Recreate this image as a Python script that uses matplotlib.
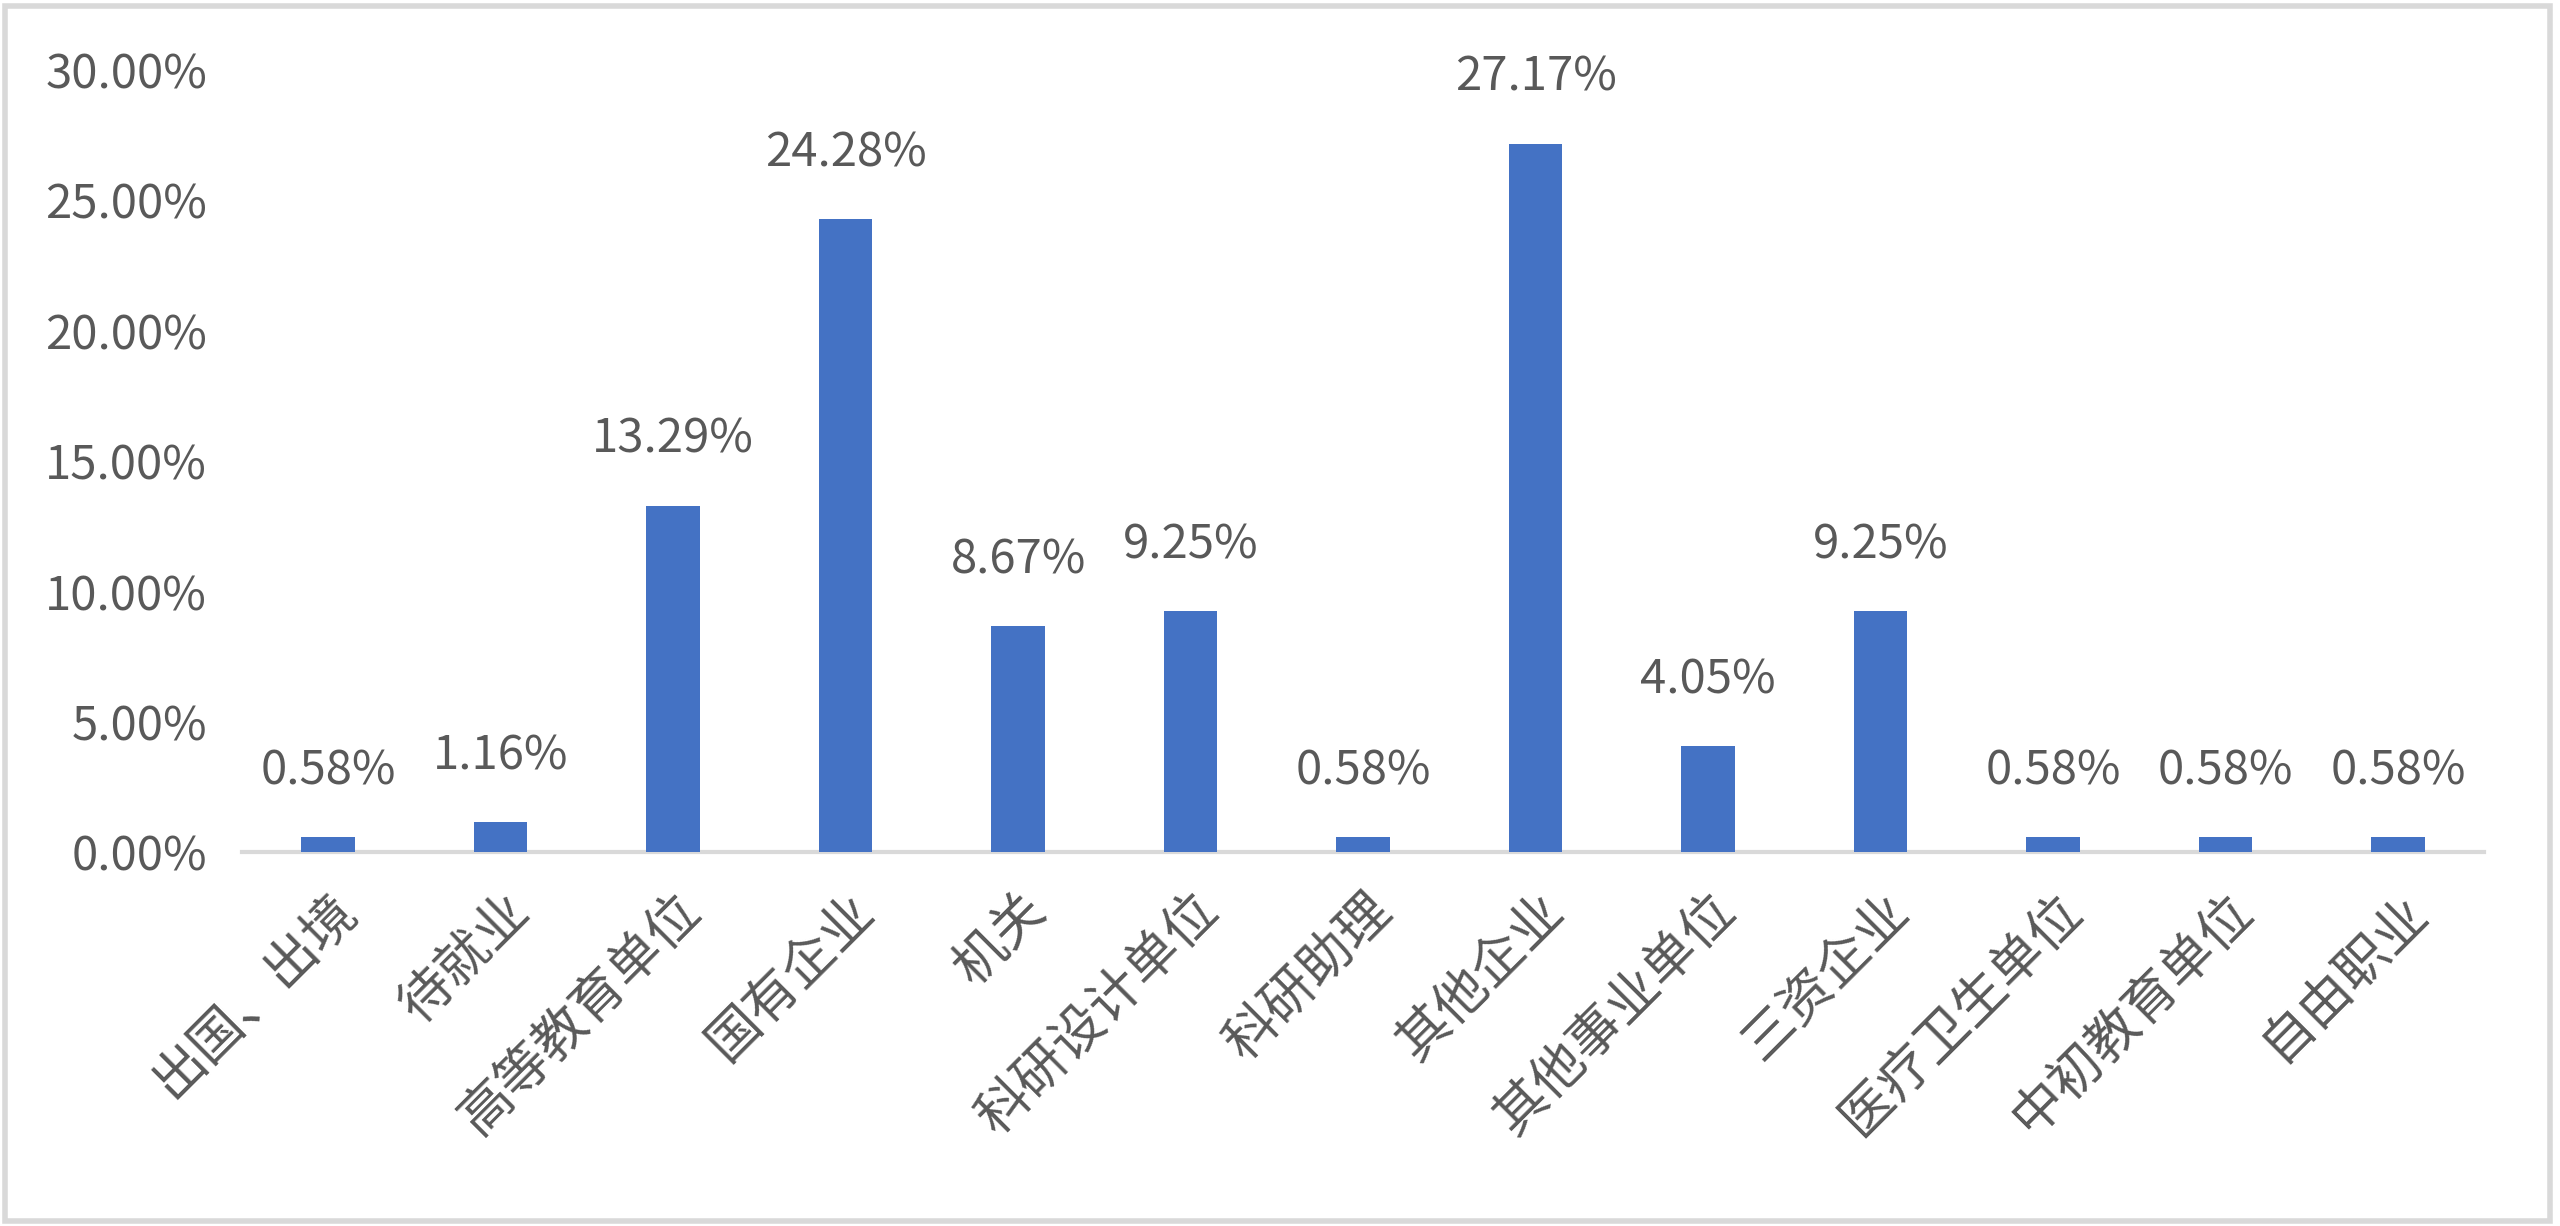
import matplotlib
matplotlib.use('Agg')
import matplotlib.pyplot as plt
from matplotlib.patches import Rectangle
import numpy as np

plt.rcParams['font.family'] = ['Noto Sans CJK SC', 'DejaVu Sans']
plt.rcParams['font.weight'] = 'light'

# data (percent)
categories = ['出国、出境', '待就业', '高等教育单位', '国有企业', '机关', '科研设计单位',
              '科研助理', '其他企业', '其他事业单位', '三资企业', '医疗卫生单位',
              '中初教育单位', '自由职业']
values = [0.58, 1.16, 13.29, 24.28, 8.67, 9.25, 0.58, 27.17, 4.05, 9.25, 0.58, 0.58, 0.58]
y_ticks = [0, 5, 10, 15, 20, 25, 30]

TEXT = '#595959'
BAR = '#4472C4'
LINE = '#D9D9D9'

fig = plt.figure(figsize=(25.6, 12.26), dpi=100)
ax = fig.add_axes([0.0945, 0.305, 0.876, 0.638])

x = np.arange(len(categories))
ax.bar(x, values, width=0.31, color=BAR, zorder=3)

for xi, v in zip(x, values):
    ax.annotate(f'{v:.2f}%', (xi, v), xytext=(0, 66), textcoords='offset pixels',
                ha='center', va='center', fontsize=34, color=TEXT)

ax.set_xlim(-0.5, len(categories) - 0.5)
ax.set_ylim(0, 30)
ax.set_yticks(y_ticks)
ax.set_yticklabels([f'{t:.2f}%' for t in y_ticks], fontsize=34, color=TEXT)
ax.set_xticks(x)
ax.set_xticklabels(categories, rotation=45, ha='right', rotation_mode='anchor',
                   fontsize=38, color=TEXT)

for s in ['top', 'right', 'left']:
    ax.spines[s].set_visible(False)
ax.spines['bottom'].set_color(LINE)
ax.spines['bottom'].set_linewidth(3)
ax.spines['bottom'].set_zorder(2)
ax.tick_params(axis='y', length=0, pad=25)
ax.tick_params(axis='x', length=0, pad=22)

# outer chart frame
fig.patches.append(Rectangle((0.002, 0.004), 0.994, 0.991, transform=fig.transFigure,
                             fill=False, edgecolor=LINE, linewidth=4))

fig.savefig('out.png', dpi=100, facecolor='white')
